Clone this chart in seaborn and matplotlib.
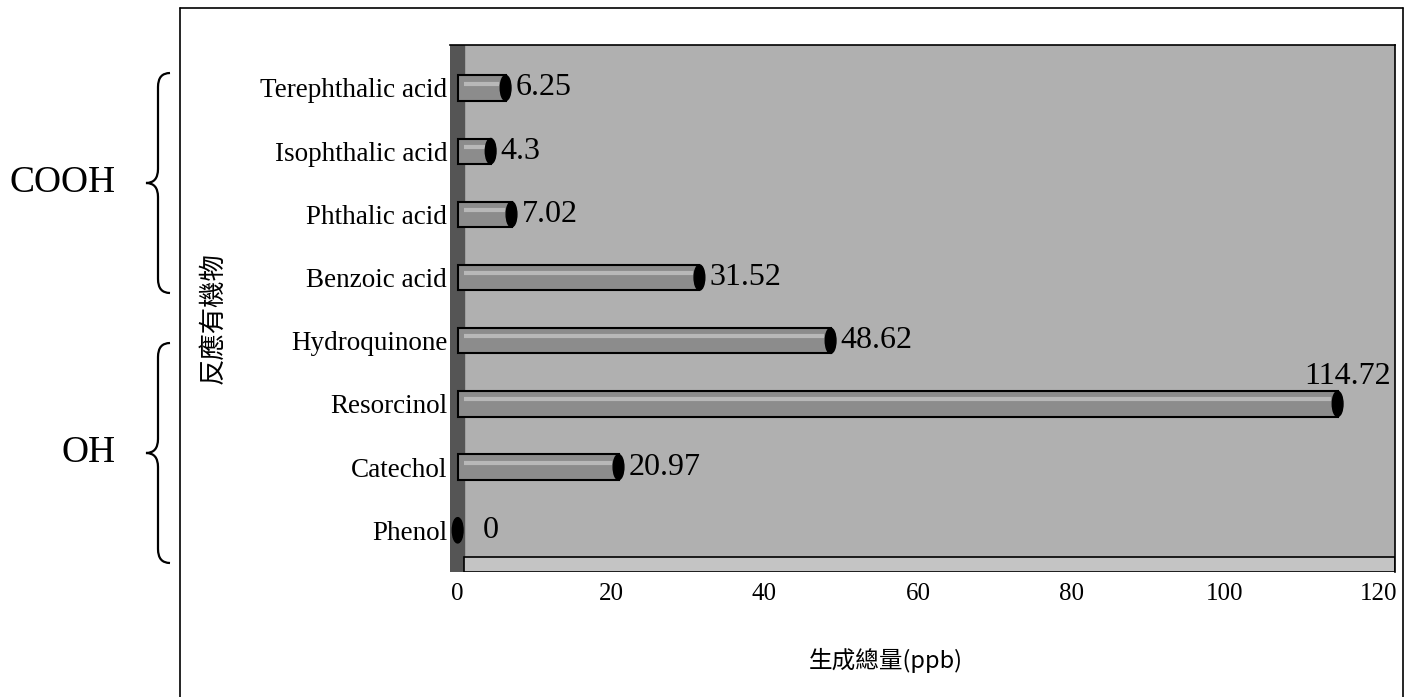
import numpy as np
import pandas as pd
import seaborn as sns
import matplotlib
matplotlib.use("Agg")
import matplotlib.pyplot as plt
from matplotlib.patches import Ellipse, PathPatch, Polygon
from matplotlib.path import Path
from matplotlib.lines import Line2D

categories = ["Terephthalic acid", "Isophthalic acid", "Phthalic acid", "Benzoic acid",
              "Hydroquinone", "Resorcinol", "Catechol", "Phenol"]
values = [6.25, 4.3, 7.02, 31.52, 48.62, 114.72, 20.97, 0]
value_labels = ["6.25", "4.3", "7.02", "31.52", "48.62", "114.72", "20.97", "0"]
xticks = [0, 20, 40, 60, 80, 100, 120]
groups = [("COOH", 73, 293), ("OH", 343, 563)]
ylabel = "反應有機物"
xlabel = "生成總量(ppb)"

sns.set_theme(style="white")
plt.rcParams['font.family'] = ['Liberation Serif', 'Noto Sans CJK TC', 'DejaVu Sans']

W, H = 1407, 697
fig = plt.figure(figsize=(W / 100, H / 100), dpi=100)
fig.patch.set_facecolor("white")

def fx(px):
    return px / W

def fy(py):
    return 1 - py / H

# axes placement (pixels)
left, right, top, bottom = 450, 1395, 45, 572
ax = fig.add_axes([fx(left), fy(bottom), fx(right) - fx(left), fy(top) - fy(bottom)])
ax.set_facecolor("#b0b0b0")

df = pd.DataFrame({"cat": categories, "val": values})
sns.barplot(data=df, x="val", y="cat", orient="h", color="#8c8c8c", edgecolor="black",
            linewidth=1.5, width=0.4, ax=ax, zorder=3, saturation=1)

ax.set_xlim(-1.0, 122.2)
ax.set_ylim(7.66, -0.68)

# left wall and floor (3D look)
ax.axvspan(-1.0, 0.8, color="#555555", zorder=1)
floor = Polygon([[0.8, 7.66], [122.2, 7.66], [122.2, 7.42], [0.8, 7.42]],
                closed=True, facecolor="#c4c4c4", edgecolor="black", linewidth=1.2, zorder=2)
ax.add_patch(floor)

# highlight stripe + end caps
for i, v in enumerate(values):
    if v > 0:
        ax.plot([0.8, v - 0.8], [i - 0.07, i - 0.07], color="#b8b8b8", lw=3, zorder=4,
                solid_capstyle="butt")
    ax.add_patch(Ellipse((v, i), width=1.4, height=0.4, facecolor="black",
                         edgecolor="black", zorder=5))

# value labels
for i, (v, lab) in enumerate(zip(values, value_labels)):
    if v > 100:
        ax.text(v + 7.0, i - 0.2, lab, ha="right", va="bottom", fontsize=23, color="black", zorder=6)
    else:
        ax.text(v + 1.3 + (2.0 if v == 0 else 0), i, lab, ha="left", va="center", fontsize=23,
                color="black", zorder=6)

ax.set_xticks(xticks)
ax.set_xticklabels([str(t) for t in xticks], fontsize=18)
ax.tick_params(axis="x", length=0, pad=8, colors="black")
ax.tick_params(axis="y", length=0, pad=2, labelsize=19.5, colors="black")
ax.set_xlabel("")
ax.set_ylabel("")
for s in ["left", "bottom"]:
    ax.spines[s].set_visible(False)
for s in ["top", "right"]:
    ax.spines[s].set_color("black")
    ax.spines[s].set_linewidth(1.2)

# axis titles
fig.text(fx(886), fy(660), xlabel, ha="center", va="center", fontsize=17, color="black",
         family=['Noto Sans CJK TC', 'Liberation Serif'])
fig.text(fx(213), fy(318), ylabel, ha="center", va="center", rotation=90, fontsize=19, color="black",
         family=['Noto Sans CJK TC', 'Liberation Serif'])

# outer frame
frame_kw = dict(color="black", lw=1.2, transform=fig.transFigure)
fig.add_artist(Line2D([fx(180), fx(180)], [fy(8), fy(697)], **frame_kw))
fig.add_artist(Line2D([fx(180), fx(1403)], [fy(8), fy(8)], **frame_kw))
fig.add_artist(Line2D([fx(1403), fx(1403)], [fy(8), fy(697)], **frame_kw))

# braces and group labels
def brace(y0, y1, xr=170, xm=158, xl=146, r=14):
    ym = (y0 + y1) / 2
    pts = [(xr, y0), (xm, y0), (xm, y0 + r), (xm, ym - r), (xm, ym), (xl, ym),
           (xm, ym), (xm, ym + r), (xm, y1 - r), (xm, y1), (xr, y1)]
    codes = [Path.MOVETO, Path.CURVE3, Path.CURVE3, Path.LINETO, Path.CURVE3, Path.CURVE3,
             Path.CURVE3, Path.CURVE3, Path.LINETO, Path.CURVE3, Path.CURVE3]
    verts = [(fx(a), fy(b)) for a, b in pts]
    fig.add_artist(PathPatch(Path(verts, codes), facecolor="none", edgecolor="black",
                             lw=1.6, transform=fig.transFigure))
    return ym

for name, y0, y1 in groups:
    ym = brace(y0, y1)
    fig.text(fx(116), fy(ym), name, ha="right", va="center", fontsize=27, color="black")

fig.savefig("out.png", dpi=100)
